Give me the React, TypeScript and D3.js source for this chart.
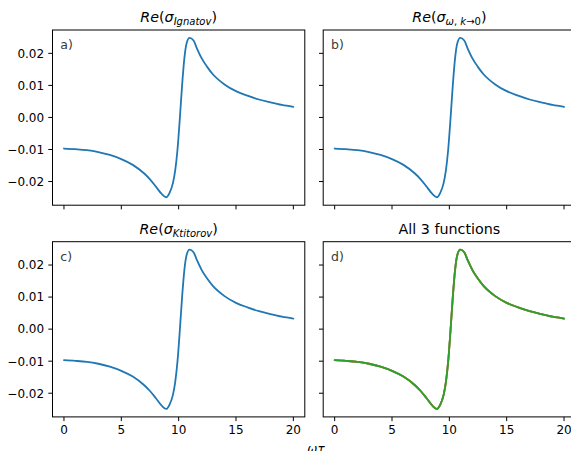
import * as d3 from "d3"
import React from "react"

// values
const omegaTau = [0, 1, 2, 3, 4, 5, 6, 7, 7.5, 8, 8.5, 8.9, 9.2, 9.5, 9.7, 9.9, 10.1, 10.3, 10.5, 10.7, 10.95, 11.3, 11.6, 12, 12.5, 13, 14, 15, 16, 17, 18, 19, 20]
const reIgnatov = [-0.0097, -0.0099, -0.0102, -0.0108, -0.0117, -0.0130, -0.0148, -0.0175, -0.0193, -0.0215, -0.0238, -0.0249, -0.0236, -0.0205, -0.0165, -0.0100, -0.0005, 0.0100, 0.0185, 0.0232, 0.0248, 0.0240, 0.0215, 0.0185, 0.0157, 0.0134, 0.0103, 0.0082, 0.0068, 0.0056, 0.0047, 0.0039, 0.0033]
const reOmegaK0 = [-0.0097, -0.0099, -0.0102, -0.0108, -0.0117, -0.0130, -0.0148, -0.0175, -0.0193, -0.0215, -0.0238, -0.0249, -0.0236, -0.0205, -0.0165, -0.0100, -0.0005, 0.0100, 0.0185, 0.0232, 0.0248, 0.0240, 0.0215, 0.0185, 0.0157, 0.0134, 0.0103, 0.0082, 0.0068, 0.0056, 0.0047, 0.0039, 0.0033]
const reKtitorov = [-0.0097, -0.0099, -0.0102, -0.0108, -0.0117, -0.0130, -0.0148, -0.0175, -0.0193, -0.0215, -0.0238, -0.0249, -0.0236, -0.0205, -0.0165, -0.0100, -0.0005, 0.0100, 0.0185, 0.0232, 0.0248, 0.0240, 0.0215, 0.0185, 0.0157, 0.0134, 0.0103, 0.0082, 0.0068, 0.0056, 0.0047, 0.0039, 0.0033]
const xTickValues = [0, 5, 10, 15, 20]
const yTickValues = [-0.02, -0.01, 0, 0.01, 0.02]
const colors = ["#1f77b4", "#ff7f0e", "#2ca02c"]

const W = 571
const H = 451
const font = "DejaVu Sans, sans-serif"
const cols = [52.5, 323.2]
const rows = [30, 241.7]
const pw = 252.3
const ph = 175.2
const tickLen = 4.2
const fs = 12

const xs = d3.scaleLinear().domain([-1, 21]).range([0, pw])
const allY = [...reIgnatov, ...reOmegaK0, ...reKtitorov]
const [yLo, yHi] = d3.extent(allY) as [number, number]
const yPad = (yHi - yLo) * 0.05
const ys = d3.scaleLinear().domain([yLo - yPad, yHi + yPad]).range([ph, 0])
const fmtY = (v: number) => d3.format(".2f")(v).replace("-", "\u2212")

const lineGen = d3.line<number>().x((_, i) => xs(omegaTau[i])).y(d => ys(d)).curve(d3.curveMonotoneX)

const Title = ({ x, y, kind }: { x: number, y: number, kind: number }) => {
  if (kind === 3) return <text x={x} y={y} textAnchor="middle" fontSize={14.3} fontFamily={font}>All 3 functions</text>
  return (
    <text x={x} y={y} textAnchor="middle" fontSize={14.3} fontFamily={font}>
      <tspan fontStyle="italic">Re</tspan>
      <tspan>(</tspan>
      <tspan fontStyle="italic">{"\u03c3"}</tspan>
      {kind === 1 ? (
        <tspan fontSize={10} dy={3}>
          <tspan fontStyle="italic">{"\u03c9"}</tspan>
          <tspan>{", "}</tspan>
          <tspan fontStyle="italic">k</tspan>
          <tspan>{"\u21920"}</tspan>
        </tspan>
      ) : (
        <tspan fontStyle="italic" fontSize={10} dy={3}>{kind === 0 ? "Ignatov" : "Ktitorov"}</tspan>
      )}
      <tspan dy={-3}>)</tspan>
    </text>
  )
}

const Panel = ({ col, row, series, label, kind }: { col: number, row: number, series: { vals: number[], color: string }[], label: string, kind: number }) => {
  const x0 = cols[col]
  const y0 = rows[row]
  return (
    <g transform={`translate(${x0},${y0})`}>
      <clipPath id={`clip${kind}`}><rect width={pw} height={ph} /></clipPath>
      <g clipPath={`url(#clip${kind})`}>
        {series.map((s, i) => (
          <path key={i} d={lineGen(s.vals) || ""} fill="none" stroke={s.color} strokeWidth={1.8} strokeLinejoin="round" strokeLinecap="round" />
        ))}
      </g>
      <text x={7.8} y={19} fontSize={12.5} fontFamily={font} fill="#3a3a3a">{label}</text>
      {xTickValues.map(v => (
        <g key={v} transform={`translate(${xs(v)},${ph})`}>
          <line y2={tickLen} stroke="#000" strokeWidth={1} />
          {row === 1 && <text y={tickLen + 4.2 + 8.8} textAnchor="middle" fontSize={fs} fontFamily={font}>{v}</text>}
        </g>
      ))}
      {yTickValues.map(v => (
        <g key={v} transform={`translate(0,${ys(v)})`}>
          <line x2={-tickLen} stroke="#000" strokeWidth={1} />
          {col === 0 && <text x={-tickLen - 4.2} dy="0.36em" textAnchor="end" fontSize={fs} fontFamily={font}>{fmtY(v)}</text>}
        </g>
      ))}
      <rect width={pw} height={ph} fill="none" stroke="#000" strokeWidth={1} />
      <Title x={pw / 2} y={-8} kind={kind} />
    </g>
  )
}

export default function App() {
  return (
    <svg width={W} height={H} style={{ position: "absolute", left: 0, top: 0, background: "#fff" }}>
      <rect width={W} height={H} fill="#fff" />
      <Panel col={0} row={0} kind={0} label="a)" series={[{ vals: reIgnatov, color: colors[0] }]} />
      <Panel col={1} row={0} kind={1} label="b)" series={[{ vals: reOmegaK0, color: colors[0] }]} />
      <Panel col={0} row={1} kind={2} label="c)" series={[{ vals: reKtitorov, color: colors[0] }]} />
      <Panel col={1} row={1} kind={3} label="d)" series={[
        { vals: reIgnatov, color: colors[0] },
        { vals: reOmegaK0, color: colors[1] },
        { vals: reKtitorov, color: colors[2] },
      ]} />
      <text x={316} y={453} textAnchor="middle" fontSize={fs} fontFamily={font} fontStyle="italic">{"\u03c9\u03c4"}</text>
    </svg>
  )
}
